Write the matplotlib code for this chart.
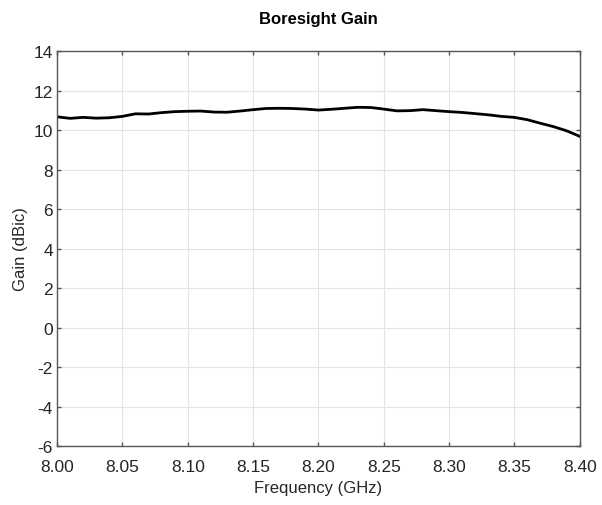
import matplotlib
matplotlib.use("Agg")
from matplotlib import pyplot as plt
import numpy as np

plt.rcParams['font.family'] = ['Liberation Sans', 'DejaVu Sans']
plt.rcParams['axes.unicode_minus'] = False

# frequency (GHz) and boresight gain (dBic)
freq = [8.00, 8.01, 8.02, 8.03, 8.04, 8.05, 8.06, 8.07, 8.08, 8.09, 8.10,
        8.11, 8.12, 8.13, 8.14, 8.15, 8.16, 8.17, 8.18, 8.19, 8.20,
        8.21, 8.22, 8.23, 8.24, 8.25, 8.26, 8.27, 8.28, 8.29, 8.30,
        8.31, 8.32, 8.33, 8.34, 8.35, 8.36, 8.37, 8.38, 8.39, 8.40]
gain = [10.67, 10.59, 10.64, 10.60, 10.62, 10.69, 10.82, 10.81, 10.88, 10.93, 10.95,
        10.96, 10.91, 10.90, 10.96, 11.03, 11.09, 11.10, 11.09, 11.06, 11.01,
        11.05, 11.10, 11.15, 11.14, 11.06, 10.97, 10.98, 11.03, 10.98, 10.93,
        10.89, 10.83, 10.77, 10.69, 10.64, 10.52, 10.34, 10.17, 9.96, 9.68]

xticks = [8.00, 8.05, 8.10, 8.15, 8.20, 8.25, 8.30, 8.35, 8.40]
yticks = np.arange(-6, 15, 2)

fig = plt.figure(figsize=(6.02, 5.06), dpi=100)
ax = fig.add_axes([0.0947, 0.1166, 0.8683, 0.7806])

ax.plot(freq, gain, color='black', linewidth=2)

ax.set_xlim(8.0, 8.4)
ax.set_ylim(-6, 14)
ax.set_xticks(xticks)
ax.set_xticklabels(['%.2f' % v for v in xticks])
ax.set_yticks(yticks)
ax.grid(True, color='#e3e3e3', linewidth=0.8)
ax.set_axisbelow(True)

edge = '#555555'
for s in ax.spines.values():
    s.set_color(edge)
    s.set_linewidth(1.0)
ax.tick_params(direction='in', top=True, right=True, length=3, width=1.0,
               color=edge, labelsize=12.5, labelcolor='#262626')
ax.tick_params(axis='x', pad=9)
ax.tick_params(axis='y', pad=3)

ax.set_xlabel('Frequency (GHz)', fontsize=12, color='#262626', labelpad=5)
ax.set_ylabel('Gain (dBic)', fontsize=12, color='#262626', labelpad=4)
ax.set_title('Boresight Gain', fontsize=12, fontweight='bold', pad=20)

fig.savefig('out.png', dpi=100)
